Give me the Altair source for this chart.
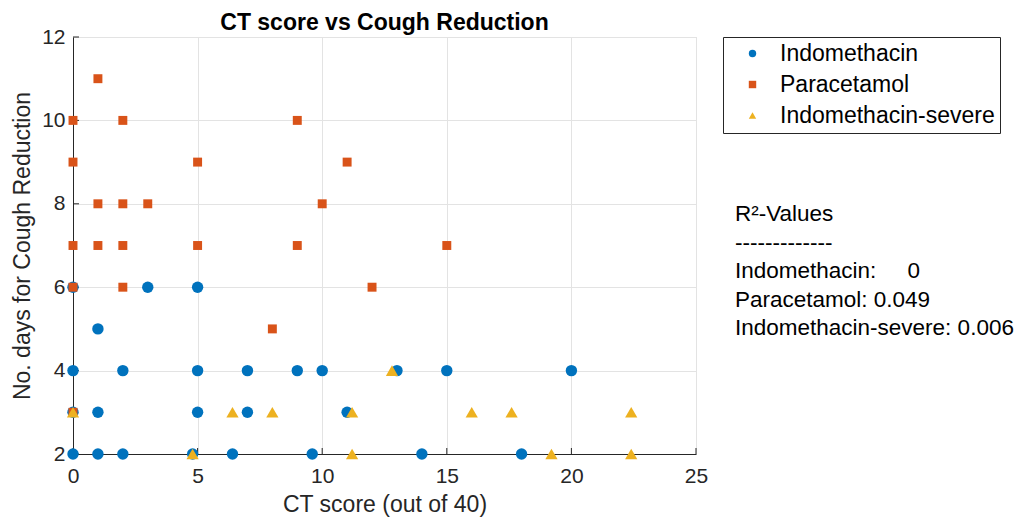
import altair as alt
import pandas as pd

# ---- data ----
indo_x = [0, 0, 0, 0, 1, 1, 1, 2, 2, 3, 5, 5, 5, 4.8, 6.4, 7, 7, 9, 9.6, 10, 11, 13, 14, 15, 18, 20]
indo_y = [6, 4, 3, 2, 5, 3, 2, 4, 2, 6, 6, 4, 3, 2, 2, 4, 3, 4, 2, 4, 3, 4, 2, 4, 2, 4]

para_x = [1, 0, 2, 9, 0, 5, 11, 1, 2, 3, 10, 0, 1, 2, 5, 9, 15, 0, 2, 12, 8, 0]
para_y = [11, 10, 10, 10, 9, 9, 9, 8, 8, 8, 8, 7, 7, 7, 7, 7, 7, 6, 6, 6, 5, 3]

sev_x = [0, 4.8, 6.4, 8, 11.2, 11.2, 12.8, 16, 17.6, 19.2, 22.4, 22.4]
sev_y = [3, 2, 3, 3, 3, 2, 4, 3, 3, 2, 3, 2]

series_names = ["Indomethacin", "Paracetamol", "Indomethacin-severe"]
series_colors = ["#0072BD", "#D95319", "#EDB120"]
series_shapes = ["circle", "square", "triangle-up"]

x_ticks = [0, 5, 10, 15, 20, 25]
y_ticks = [2, 4, 6, 8, 10, 12]

chart_title = "CT score vs Cough Reduction"
r2_lines = [
    "R\u00b2-Values",
    "-------------",
    "Indomethacin:\u00a0\u00a0\u00a0\u00a0\u00a00",
    "Paracetamol: 0.049",
    "Indomethacin-severe: 0.006",
]

FONT = "Liberation Sans"
INK = "#262626"
W, H = 623, 417

df = pd.concat([
    pd.DataFrame({"x": indo_x, "y": indo_y, "series": series_names[0]}),
    pd.DataFrame({"x": para_x, "y": para_y, "series": series_names[1]}),
    pd.DataFrame({"x": sev_x, "y": sev_y, "series": series_names[2]}),
], ignore_index=True)

xscale = alt.Scale(domain=[0, 25], nice=False, zero=False)
yscale = alt.Scale(domain=[2, 12], nice=False, zero=False)

xaxis = alt.Axis(values=x_ticks, grid=True, gridColor="#e3e3e3", domainColor=INK,
                 tickSize=0, labelFontSize=21, labelFont=FONT, labelColor=INK,
                 labelPadding=11, labelFlush=False,
                 title="CT score (out of 40)", titleFont=FONT,
                 titleFontSize=23, titleFontWeight="normal", titleColor=INK,
                 titleBaseline="middle", titleY=50, titleX=W / 2)
yaxis = alt.Axis(values=y_ticks, grid=True, gridColor="#e3e3e3", domainColor=INK,
                 tickSize=0, labelFontSize=21, labelFont=FONT, labelColor=INK,
                 labelPadding=8, labelFlush=False,
                 title="No. days for Cough Reduction", titleFont=FONT,
                 titleFontSize=23, titleFontWeight="normal", titleColor=INK,
                 titleBaseline="middle", titleX=-51, titleY=H / 2, titleAngle=-90,
                 titleAlign="center")

color = alt.Color("series:N", scale=alt.Scale(domain=series_names, range=series_colors),
                  legend=alt.Legend(orient="none", legendX=650, legendY=0, title=None,
                                    strokeColor=INK, fillColor="white", padding=5,
                                    labelFontSize=23, labelFont=FONT, labelColor="black",
                                    labelLimit=400,
                                    symbolSize=55, rowPadding=7, symbolOffset=13,
                                    labelOffset=16, symbolStrokeWidth=0))
shape = alt.Shape("series:N", scale=alt.Scale(domain=series_names, range=series_shapes))

xt = pd.DataFrame({"t": x_ticks})
yt = pd.DataFrame({"t": y_ticks})
xtick_layer = alt.Chart(xt).mark_rule(color=INK, strokeWidth=1).encode(
    x=alt.X("t:Q", scale=xscale, axis=xaxis), y=alt.value(H), y2=alt.value(H - 6))
ytick_layer = alt.Chart(yt).mark_rule(color=INK, strokeWidth=1).encode(
    y=alt.Y("t:Q", scale=yscale, axis=yaxis), x=alt.value(0), x2=alt.value(6))

sizes = [130, 80, 150]
layers = []
for name, sz in zip(series_names, sizes):
    layers.append(
        alt.Chart(df).transform_filter(alt.datum.series == name)
        .mark_point(filled=True, opacity=1, size=sz, strokeWidth=0)
        .encode(x=alt.X("x:Q", scale=xscale, axis=xaxis),
                y=alt.Y("y:Q", scale=yscale, axis=yaxis),
                color=color, shape=shape)
    )

one = pd.DataFrame({"k": [0]})
text_layer = alt.Chart(one).mark_text(
    align="left", baseline="top", font=FONT, fontSize=22.5, lineHeight=28.5, color="black"
).encode(x=alt.value(662), y=alt.value(166), text=alt.value(r2_lines))

title_layer = alt.Chart(one).mark_text(
    align="center", baseline="alphabetic", font=FONT, fontSize=23, fontWeight="bold",
    color="black"
).encode(x=alt.value(W / 2), y=alt.value(-7), text=alt.value(chart_title))

chart = alt.layer(xtick_layer, ytick_layer, *layers, text_layer, title_layer).properties(
    width=W, height=H,
    autosize=alt.AutoSizeParams(type="none"),
    padding={"left": 65, "top": 29, "right": 319, "bottom": 63},
).configure_view(stroke=None).configure(background="white")

chart.save("out.html", embed_options={"renderer": "svg", "actions": False})
